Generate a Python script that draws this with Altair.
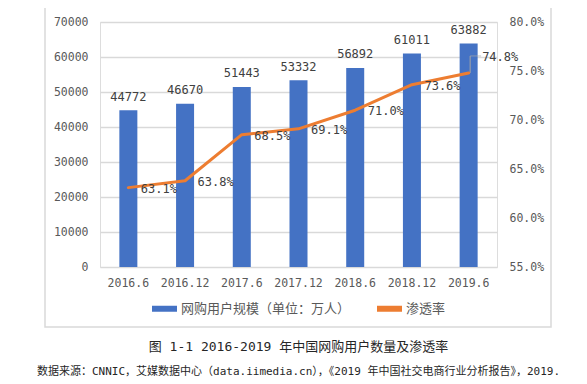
import altair as alt
import pandas as pd

periods = ["2016.6", "2016.12", "2017.6", "2017.12", "2018.6", "2018.12", "2019.6"]
users = [44772, 46670, 51443, 53332, 56892, 61011, 63882]
rates = [0.631, 0.638, 0.685, 0.691, 0.710, 0.736, 0.748]
series_names = ["网购用户规模（单位：万人）", "渗透率"]
left_ticks = [0, 10000, 20000, 30000, 40000, 50000, 60000, 70000]
right_ticks = [0.55, 0.60, 0.65, 0.70, 0.75, 0.80]
caption = "图 1-1 2016-2019 年中国网购用户数量及渗透率"
source = "数据来源：CNNIC，艾媒数据中心（data.iimedia.cn），《2019 年中国社交电商行业分析报告》，2019."

df = pd.DataFrame({"period": periods, "users": users, "rate": rates,
                   "series": series_names[1]})
frame_df = pd.DataFrame({"a": [0]})

MONO = "DejaVu Sans Mono, Noto Sans CJK SC"
CJK = "Noto Sans CJK SC"
BLUE = "#4472C4"
ORANGE = "#ED7D31"
GRID = "#d9d9d9"
LABEL = "#595959"
TEXT = "#404040"

xscale = alt.Scale(domain=periods, paddingInner=0, paddingOuter=0)
xaxis = alt.Axis(title=None, labelAngle=0, ticks=False, domain=False, labelPadding=10,
                 labelFontSize=11.5, labelColor=LABEL, labelFont=MONO, grid=False)
x_bar = alt.X("period:N", sort=periods, scale=xscale, axis=xaxis)
x_pt = alt.X("period:N", sort=periods, scale=xscale, axis=xaxis, bandPosition=0.5)

y_users = alt.Y("users:Q", scale=alt.Scale(domain=[0, 70000]),
                axis=alt.Axis(title=None, values=left_ticks, format="d", grid=True,
                              gridColor=GRID, gridWidth=1.5, domain=False, ticks=False,
                              labelPadding=12, labelFontSize=11.5, labelColor=LABEL,
                              labelFont=MONO))
y_rate = alt.Y("rate:Q", scale=alt.Scale(domain=[0.55, 0.80]),
               axis=alt.Axis(title=None, orient="right", values=right_ticks, format=".1%",
                             grid=False, domain=False, ticks=False, labelPadding=12,
                             labelFontSize=11.5, labelColor=LABEL, labelFont=MONO))

frame = alt.Chart(frame_df).mark_rect(fillOpacity=0, stroke=GRID, strokeWidth=1.5).encode(
    x=alt.value(-55), x2=alt.value(451), y=alt.value(-16), y2=alt.value(305))

bars = alt.Chart(df).mark_bar(size=18, color=BLUE).encode(x=x_bar, y=y_users)
bar_text = alt.Chart(df).mark_text(baseline="middle", dy=-13.5, fontSize=12, font=MONO,
                                   color=TEXT).encode(
    x=x_pt, y=y_users, text=alt.Text("users:Q", format="d"))

left_layer = alt.layer(frame, bars, bar_text)

color = alt.Color("series:N",
                  scale=alt.Scale(domain=series_names, range=[BLUE, ORANGE]),
                  legend=alt.Legend(title=None, orient="none", legendX=49, legendY=271,
                                    direction="horizontal", symbolType="stroke",
                                    symbolStrokeWidth=6, symbolSize=625, labelLimit=400,
                                    labelFontSize=13, labelFont=CJK, labelColor=LABEL,
                                    columnPadding=14, labelOffset=1))

line = alt.Chart(df).mark_line(strokeWidth=3, strokeCap="round", strokeJoin="round").encode(
    x=x_pt, y=y_rate, color=color)

pct_text = alt.Chart(df).transform_filter(alt.datum.period != "2019.6").mark_text(
    align="left", baseline="middle", dx=12.5, dy=1, fontSize=12, font=MONO, color=TEXT
).encode(x=x_pt, y=y_rate, text=alt.Text("rate:Q", format=".1%"))

last_text = alt.Chart(df).transform_filter(alt.datum.period == "2019.6").mark_text(
    align="left", baseline="middle", dx=13.5, dy=-16, fontSize=12, font=MONO, color=TEXT
).encode(x=x_pt, y=y_rate, text=alt.Text("rate:Q", format=".1%"))

leader_v = alt.Chart(df).transform_filter(alt.datum.period == "2019.6").mark_rule(
    color="#a6a6a6", strokeWidth=1, xOffset=1.5, y2Offset=-17
).encode(x=x_pt, y=y_rate, y2=alt.Y2("rate:Q"))

leader_h = alt.Chart(df).transform_filter(alt.datum.period == "2019.6").mark_tick(
    orient="horizontal", size=11, thickness=1, color="#a6a6a6", xOffset=7, yOffset=-17
).encode(x=x_pt, y=y_rate)

right_layer = alt.layer(leader_v, leader_h, line, pct_text, last_text)

chart = alt.layer(left_layer, right_layer).resolve_scale(y="independent").properties(
    width=397, height=245,
    autosize=alt.AutoSizeParams(type="none"),
    padding={"left": 92, "top": 14, "right": 70, "bottom": 114},
    title=alt.TitleParams(text=caption, subtitle=source, orient="bottom", anchor="middle",
                          offset=13, font=MONO, fontSize=13, fontWeight="normal",
                          color="#262626", subtitleFont=MONO, subtitleFontSize=11,
                          subtitleColor="#262626", subtitlePadding=12)
).configure_view(stroke=None).configure(background="white")

chart.save("out.html", embed_options={"renderer": "svg", "actions": False})
